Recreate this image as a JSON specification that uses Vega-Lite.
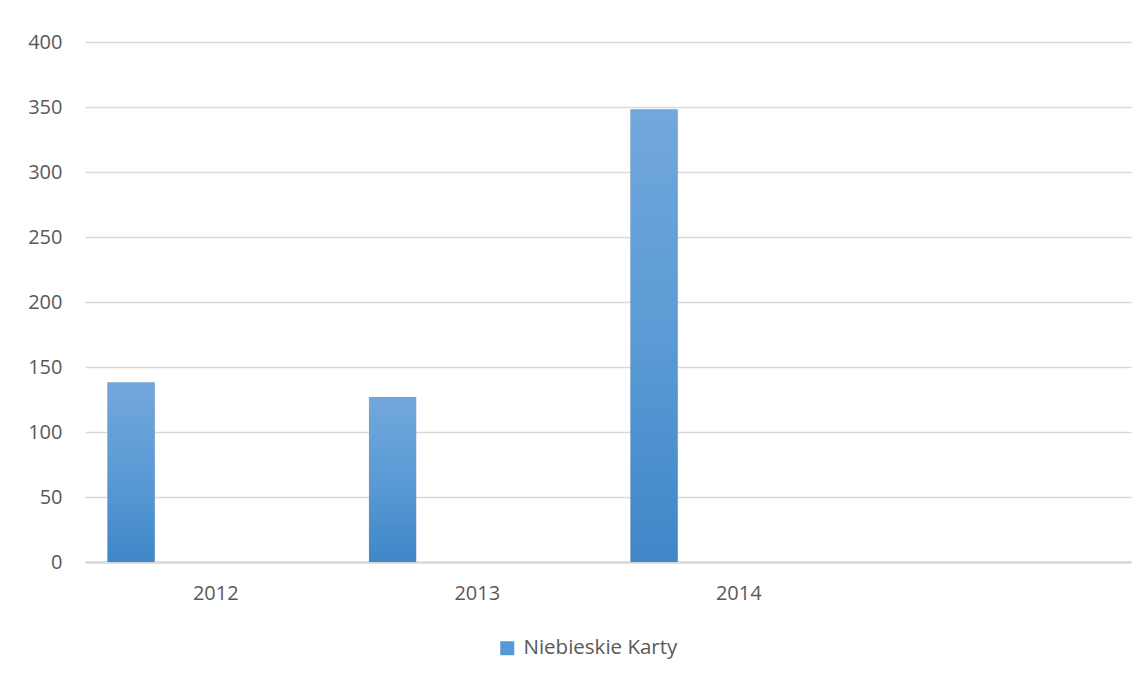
{
  "$schema": "https://vega.github.io/schema/vega-lite/v6.json",
  "width": 1046,
  "height": 520,
  "autosize": {"type": "none"},
  "padding": {"left": 85, "top": 42, "right": 17, "bottom": 115},
  "background": "white",
  "config": {
    "view": {"stroke": null},
    "font": "Open Sans"
  },
  "data": {
    "values": [
      {"rok": "2012", "seria": "Niebieskie Karty", "wartosc": 138},
      {"rok": "2013", "seria": "Niebieskie Karty", "wartosc": 127},
      {"rok": "2014", "seria": "Niebieskie Karty", "wartosc": 348}
    ]
  },
  "encoding": {
    "x": {
      "field": "rok",
      "type": "nominal",
      "scale": {"domain": ["2012", "2013", "2014", ""], "paddingInner": 0, "paddingOuter": 0},
      "axis": {
        "title": null,
        "labelAngle": 0,
        "ticks": false,
        "domain": true,
        "domainColor": "#d9d9d9",
        "domainWidth": 2.5,
        "labelFontSize": 20,
        "labelColor": "#595959",
        "labelPadding": 21,
        "grid": false
      }
    },
    "xOffset": {
      "field": "seria",
      "type": "nominal",
      "scale": {"domain": ["Niebieskie Karty", "s2", "s3", "s4"], "paddingInner": 0.167, "paddingOuter": 0.4}
    },
    "y": {
      "field": "wartosc",
      "type": "quantitative",
      "scale": {"domain": [0, 400], "nice": false},
      "axis": {
        "title": null,
        "values": [0, 50, 100, 150, 200, 250, 300, 350, 400],
        "ticks": false,
        "domain": false,
        "gridColor": "#d9d9d9",
        "gridWidth": 1.4,
        "labelFontSize": 20,
        "labelColor": "#595959",
        "labelPadding": 23
      }
    }
  },
  "layer": [
    {
      "mark": {"type": "bar", "stroke": "#c8c8c8", "strokeWidth": 0.6, "strokeOpacity": 0.6},
      "encoding": {
        "color": {
          "field": "seria",
          "type": "nominal",
          "scale": {"domain": ["Niebieskie Karty"], "range": ["#5599d6"]},
          "legend": {
            "title": null,
            "orient": "none",
            "legendX": 412,
            "legendY": 596,
            "symbolType": "square",
            "symbolSize": 196,
            "symbolStrokeWidth": 0,
            "symbolOpacity": 1,
            "labelFontSize": 20.5,
            "labelColor": "#595959",
            "labelOffset": 6
          }
        }
      }
    },
    {
      "mark": {
        "type": "bar",
        "color": {"gradient": "linear", "x1": 0, "y1": 0, "x2": 0, "y2": 1, "stops": [{"offset": 0, "color": "#72a7dc"}, {"offset": 0.5, "color": "#5b9bd5"}, {"offset": 1, "color": "#3f87c8"}]}
      }
    }
  ]
}
